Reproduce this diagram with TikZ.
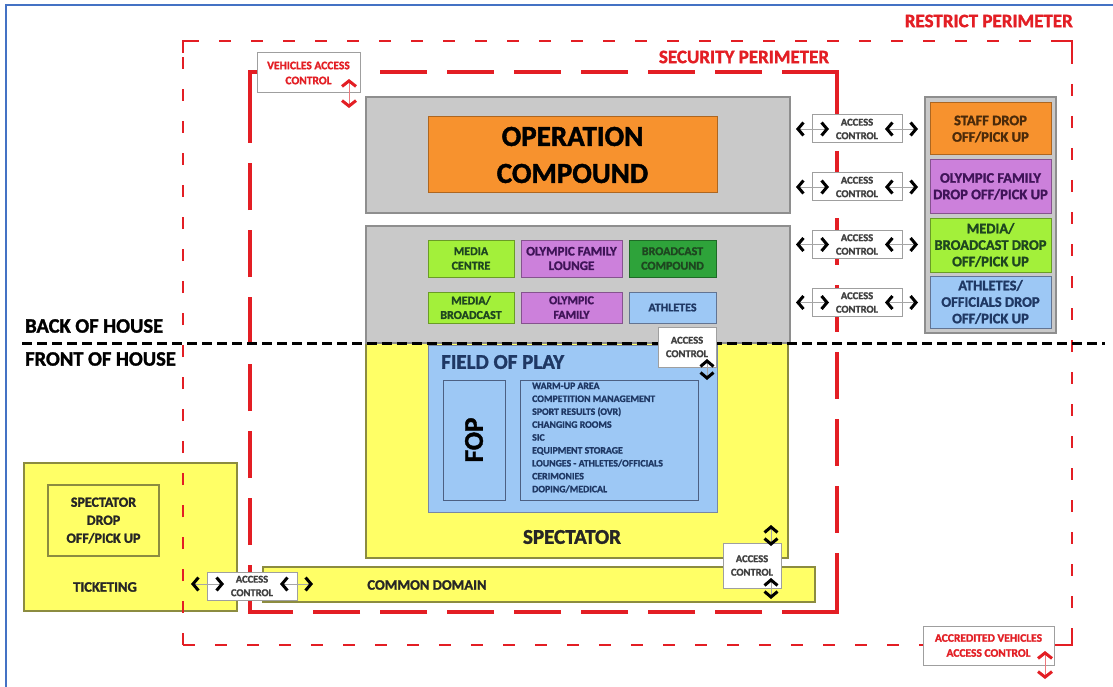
\documentclass[tikz,border=0pt]{standalone}
\usepackage{fontspec}
\setmainfont{Carlito}[BoldFeatures={FakeBold=1.5}]
\usetikzlibrary{arrows.meta}
\definecolor{redp}{HTML}{E31E24}
\definecolor{framebl}{HTML}{4472C4}
\definecolor{grayf}{HTML}{C9C9C9}
\definecolor{grayd}{HTML}{8E8E8E}
\definecolor{orangef}{HTML}{F7922E}
\definecolor{violetf}{HTML}{CC80DB}
\definecolor{limef}{HTML}{A3F03A}
\definecolor{greenf}{HTML}{2EA33A}
\definecolor{bluef}{HTML}{9DC8F5}
\definecolor{yellowf}{HTML}{FFFF66}
\definecolor{navyt}{HTML}{1F3864}
\definecolor{greent}{HTML}{1E4620}
\definecolor{purplet}{HTML}{3F1458}
\definecolor{brownt}{HTML}{4A2A0A}
\definecolor{oliveb}{HTML}{8C8C40}
\begin{document}
\begin{tikzpicture}[x=1pt,y=-1pt,
  every node/.style={inner sep=0pt, align=center},
  graybox/.style={draw=grayd, fill=grayf, line width=1.3pt},
  yellowbox/.style={draw=oliveb, fill=yellowf, line width=1.3pt},
  orangebox/.style={draw=orangef!70!black, fill=orangef, line width=1pt, text=brownt},
  violetbox/.style={draw=violetf!65!black, fill=violetf, line width=1pt, text=purplet},
  limebox/.style={draw=limef!65!black, fill=limef, line width=1pt, text=greent},
  greenbox/.style={draw=greenf!65!black, fill=greenf, line width=1pt, text=greent},
  bluebox/.style={draw=navyt!70, fill=bluef, line width=1pt, text=navyt},
  smallbox/.style={font=\bfseries\fontsize{12}{14.5}\selectfont},
  rightbox/.style={font=\bfseries\fontsize{14.5}{16.5}\selectfont, minimum width=121pt},
  acbox/.style={draw=gray!75, fill=white, line width=1pt, text=black!75,
    font=\bfseries\fontsize{10.5}{13.5}\selectfont},
  redac/.style={draw=gray!75, fill=white, line width=1pt, text=redp,
    font=\bfseries\fontsize{11.5}{15}\selectfont},
  label/.style={font=\bfseries\fontsize{#1}{#1}\selectfont},
  restrict/.style={draw=redp, line width=2.6pt, dash pattern=on 12pt off 20pt},
  security/.style={draw=redp, line width=4.5pt, dash pattern=on 47pt off 20pt},
  rcorner/.style={draw=redp, line width=2.6pt},
  scorner/.style={draw=redp, line width=4.5pt},
  dbl/.style={draw=gray!70, line width=0.6pt,
    {Straight Barb[length=5.5pt,width=13pt,line width=3pt,color=black]}-{Straight Barb[length=5.5pt,width=13pt,line width=3pt,color=black]}},
  reddbl/.style={draw=redp!60, line width=0.6pt,
    {Straight Barb[length=5.5pt,width=14pt,line width=3pt,color=redp]}-{Straight Barb[length=5.5pt,width=14pt,line width=3pt,color=redp]}}
]
\useasboundingbox (0,0) rectangle (1113,687);
\fill[white] (0,0) rectangle (1113,687);
% frame
\draw[framebl, line width=1.5pt] (6,687) -- (6,5) -- (1113,5);

% perimeter labels
\node[label=19, text=redp, anchor=east] (rlabel) at (1073,21) {RESTRICT PERIMETER};
\node[label=19, text=redp] (slabel) at (744,57) {SECURITY PERIMETER};

% back of house zones
\node[graybox, minimum width=424pt, minimum height=116pt] (opzone) at (578,155) {};
\node[orangebox, text=black, minimum width=289pt, minimum height=76pt,
  font=\bfseries\fontsize{29}{37}\selectfont] (opc) at (572.5,155) {OPERATION\\COMPOUND};
\node[yellowbox, minimum width=422pt, minimum height=215pt] (spec) at (577,450.5) {};
\node[graybox, minimum width=424pt, minimum height=117pt] (bohzone) at (578,284.5) {};

\node[limebox, smallbox, minimum width=86pt, minimum height=37pt] (mcentre) at (471,258.5) {MEDIA\\CENTRE};
\node[violetbox, smallbox, font=\bfseries\fontsize{13}{14.5}\selectfont, minimum width=101pt, minimum height=37pt] (oflounge) at (571.5,258.5) {OLYMPIC FAMILY\\LOUNGE};
\node[greenbox, smallbox, minimum width=87pt, minimum height=37pt] (bcomp) at (672.5,258.5) {BROADCAST\\COMPOUND};
\node[limebox, smallbox, minimum width=86pt, minimum height=31pt] (mbroad) at (471,307.5) {MEDIA/\\BROADCAST};
\node[violetbox, smallbox, minimum width=101pt, minimum height=31pt] (ofam) at (571.5,307.5) {OLYMPIC\\FAMILY};
\node[bluebox, smallbox, minimum width=87pt, minimum height=31pt] (ath) at (672.5,307.5) {ATHLETES};

% field of play
\node[bluebox, draw=navyt!60, minimum width=289pt, minimum height=167pt] (fopzone) at (572.5,428.5) {};
\node[label=21, text=navyt, anchor=west] (foptitle) at (441,362) {FIELD OF PLAY};
\node[draw=navyt!80, line width=1pt, minimum width=62pt, minimum height=120pt] (fopbox) at (474,440) {};
\node[label=27, rotate=90, text=black] (foptext) at (fopbox) {FOP};
\node[draw=navyt!80, line width=1pt, minimum width=178pt, minimum height=120pt] (listbox) at (609,440) {};
\node[anchor=north west, align=left, text=navyt, font=\bfseries\fontsize{9.8}{12.9}\selectfont] (list) at (532,382.5)
 {WARM-UP AREA\\COMPETITION MANAGEMENT\\SPORT RESULTS (OVR)\\CHANGING ROOMS\\SIC\\EQUIPMENT STORAGE\\LOUNGES - ATHLETES/OFFICIALS\\CERIMONIES\\DOPING/MEDICAL};
\node[label=21, text=black!85] (spectxt) at (572,537) {SPECTATOR};

% common domain
\node[yellowbox, minimum width=552pt, minimum height=35pt] (common) at (539,584.5) {};
\node[label=14.5, text=black!85] (commontxt) at (427,585) {COMMON DOMAIN};

% ticketing
\node[yellowbox, minimum width=213pt, minimum height=148pt] (ticket) at (130.5,537) {};
\node[draw=oliveb, line width=1.3pt, minimum width=111pt, minimum height=71pt,
  font=\bfseries\fontsize{14}{18}\selectfont, text=black!85] (sdrop) at (103.5,520.5) {SPECTATOR\\DROP\\OFF/PICK UP};
\node[label=14.5, text=black!85] (tickettxt) at (105,587) {TICKETING};

% right column
\node[graybox, minimum width=131pt, minimum height=236pt] (rcol) at (990.5,215) {};
\node[orangebox, rightbox, minimum height=52pt] (staff) at (990.5,129) {STAFF DROP\\OFF/PICK UP};
\node[violetbox, rightbox, minimum height=53pt] (ofdrop) at (990.5,186.5) {OLYMPIC FAMILY\\DROP OFF/PICK UP};
\node[limebox, rightbox, minimum height=54pt] (mdrop) at (990.5,245) {MEDIA/\\BROADCAST DROP\\OFF/PICK UP};
\node[bluebox, rightbox, minimum height=52pt] (adrop) at (990.5,302) {ATHLETES/\\OFFICIALS DROP\\OFF/PICK UP};

% restrict perimeter
\draw[restrict] (183,645) -- (183,41) -- (1072,41) -- (1072,645) -- (1054,645);
\draw[restrict] (183,645) -- (923,645);
\draw[rcorner] (183,53) -- (183,41) -- (195,41);
\draw[rcorner] (1060,41) -- (1072,41) -- (1072,53);
\draw[rcorner] (1072,633) -- (1072,645) -- (1054,645);

% security perimeter
\draw[security] (250,612) -- (250,72) -- (837,72) -- (837,612) -- cycle;
\draw[scorner] (250,96) -- (250,72) -- (274,72);
\draw[scorner] (813,72) -- (837,72) -- (837,96);
\draw[scorner] (837,588) -- (837,612) -- (813,612);
\draw[scorner] (274,612) -- (250,612) -- (250,588);

% back / front of house
\draw[black, line width=2.6pt, dash pattern=on 10pt off 5pt] (22,343.5) -- (1105,343.5);
\node[label=20.5, anchor=west] (boh) at (25,326) {BACK OF HOUSE};
\node[label=20.5, anchor=west] (foh) at (25,359) {FRONT OF HOUSE};

% access controls
\node[redac, minimum width=103pt, minimum height=40pt] (vac) at (308.5,73) {VEHICLES ACCESS\\CONTROL};
\node[redac, minimum width=131pt, minimum height=39pt] (avac) at (988.5,645.5) {ACCREDITED VEHICLES\\ACCESS CONTROL};

\foreach \n/\y in {1/129,2/187,3/244.5,4/302.5}{
  \node[acbox, minimum width=90pt, minimum height=28pt] (rac\n) at (857,\y) {ACCESS\\CONTROL};
  \coordinate (rac\n a) at (796,\y);
  \coordinate (rac\n b) at (829,\y);
  \coordinate (rac\n c) at (885,\y);
  \coordinate (rac\n d) at (918,\y);
  \draw[dbl] (rac\n a) -- (rac\n b);
  \draw[dbl] (rac\n c) -- (rac\n d);
}

\node[acbox, minimum width=58pt, minimum height=40pt] (fopac) at (687,347) {ACCESS\\CONTROL};
\node[acbox, minimum width=58pt, minimum height=45pt] (cac) at (752,565.5) {ACCESS\\CONTROL};
\node[acbox, minimum width=90pt, minimum height=28pt] (tac) at (252,586) {ACCESS\\CONTROL};

\coordinate (f1) at (707,359); \coordinate (f2) at (707,380);
\draw[dbl] (f1) -- (f2);
\coordinate (c1) at (771,525); \coordinate (c2) at (771,546);
\coordinate (c3) at (771,578); \coordinate (c4) at (771,599);
\draw[dbl] (c1) -- (c2);
\draw[dbl] (c3) -- (c4);
\coordinate (t1) at (191,584); \coordinate (t2) at (224,584);
\coordinate (t3) at (280,584); \coordinate (t4) at (313,584);
\draw[dbl] (t1) -- (t2);
\draw[dbl] (t3) -- (t4);
\coordinate (v1) at (349,79); \coordinate (v2) at (349,108);
\draw[reddbl] (v1) -- (v2);
\coordinate (a1) at (1045,651); \coordinate (a2) at (1045,679);
\draw[reddbl] (a1) -- (a2);
\end{tikzpicture}
\end{document}
